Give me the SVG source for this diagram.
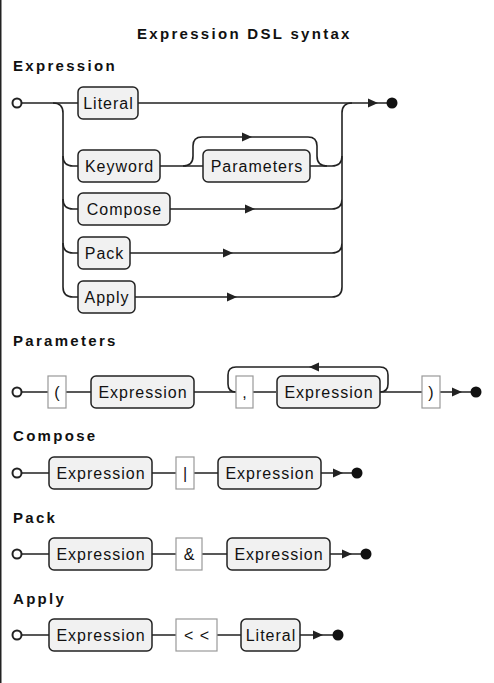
<svg xmlns="http://www.w3.org/2000/svg" xmlns:xlink="http://www.w3.org/1999/xlink" width="494" height="683" viewBox="0 0 494 683">
<style>
.h{font-family:"Liberation Sans",Arial,sans-serif;font-weight:bold;font-size:15px;letter-spacing:2.3px;fill:#111}
.t{font-family:"Liberation Sans",Arial,sans-serif;font-size:16px;letter-spacing:1px;fill:#111;text-anchor:middle}
.nt{fill:#f1f1f1;stroke:#222;stroke-width:1.5}
.tm{fill:#fff;stroke:#999;stroke-width:1.2}
.ln{fill:none;stroke:#222;stroke-width:1.6}
.ar{fill:#222}
.st{fill:#fff;stroke:#222;stroke-width:2}
.en{fill:#111}
</style>
<defs>
<path id="arr" d="M-5,-4.5 L5,0 L-5,4.5 Z"/>
</defs>
<rect width="494" height="683" fill="#fff"/>
<line x1="0.75" y1="0" x2="0.75" y2="683" stroke="#222" stroke-width="1.5"/>
<text class="h" x="137" y="39">Expression DSL syntax</text>
<text class="h" x="13" y="71">Expression</text>
<text class="h" x="13" y="346">Parameters</text>
<text class="h" x="13" y="441">Compose</text>
<text class="h" x="13" y="523">Pack</text>
<text class="h" x="13" y="604">Apply</text>

<g id="connectors">
<!-- Expression -->
<path class="ln" d="M21.5,103 H78 M138,103 H387"/>
<path class="ln" d="M53,103 Q63,103 63,113 V287 Q63,297 73,297 H78"/>
<path class="ln" d="M63,156 Q63,166 73,166 H78 M63,199 Q63,209 73,209 H78 M63,243 Q63,253 73,253 H78"/>
<path class="ln" d="M160,166 H203 M310,166 H332 Q342,166 342,156"/>
<path class="ln" d="M183,166 Q193,166 193,156 V146 Q193,137 202,137 H308 Q317,137 317,146 V156 Q317,166 327,166"/>
<path class="ln" d="M170,209 H332 Q342,209 342,199 M130,253 H332 Q342,253 342,243 M135,297 H332 Q342,297 342,287 V113 Q342,103 352,103"/>
<use xlink:href="#arr" class="ar" x="247" y="137"/>
<use xlink:href="#arr" class="ar" x="250" y="209"/>
<use xlink:href="#arr" class="ar" x="228" y="253"/>
<use xlink:href="#arr" class="ar" x="232" y="297"/>
<use xlink:href="#arr" class="ar" x="373" y="103"/>
<!-- Parameters -->
<path class="ln" d="M21.5,392 H48 M66,392 H91 M194,392 H236 M253,392 H276 M380,392 H422 M440,392 H471"/>
<path class="ln" d="M380,392 Q388,392 388,384 V375 Q388,367 380,367 H236 Q228,367 228,375 V384 Q228,392 236,392"/>
<use xlink:href="#arr" class="ar" x="0" y="0" transform="translate(314,367) rotate(180)"/>
<use xlink:href="#arr" class="ar" x="457" y="392"/>
<!-- Compose -->
<path class="ln" d="M21.5,473 H49 M152,473 H176 M194,473 H218 M321,473 H352"/>
<use xlink:href="#arr" class="ar" x="338" y="473"/>
<!-- Pack -->
<path class="ln" d="M21.5,554 H49 M152,554 H176 M202,554 H227 M330,554 H361"/>
<use xlink:href="#arr" class="ar" x="347" y="554"/>
<!-- Apply -->
<path class="ln" d="M21.5,635 H49 M152,635 H176 M217,635 H241 M300,635 H333"/>
<use xlink:href="#arr" class="ar" x="318" y="635"/>
</g>

<g id="expr-start"><circle class="st" cx="17" cy="103" r="4.5"/></g>
<g id="expr-end"><circle class="en" cx="392" cy="103" r="5.5"/></g>
<g id="expr-literal"><rect class="nt" x="78" y="87" width="60" height="32" rx="5"/><text class="t" x="108.5" y="109">Literal</text></g>
<g id="expr-keyword"><rect class="nt" x="78" y="150" width="82" height="32" rx="5"/><text class="t" x="119.5" y="172">Keyword</text></g>
<g id="expr-parameters"><rect class="nt" x="203" y="150" width="107" height="32" rx="5"/><text class="t" x="257" y="172">Parameters</text></g>
<g id="expr-compose"><rect class="nt" x="78" y="193" width="92" height="32" rx="5"/><text class="t" x="124.5" y="215">Compose</text></g>
<g id="expr-pack"><rect class="nt" x="78" y="237" width="52" height="32" rx="5"/><text class="t" x="104.5" y="259">Pack</text></g>
<g id="expr-apply"><rect class="nt" x="78" y="281" width="57" height="32" rx="5"/><text class="t" x="107" y="303">Apply</text></g>

<g id="par-start"><circle class="st" cx="17" cy="392" r="4.5"/></g>
<g id="par-lparen"><rect class="tm" x="48" y="376" width="18" height="32"/><text class="t" x="57.5" y="398">(</text></g>
<g id="par-expr1"><rect class="nt" x="91" y="376" width="103" height="32" rx="5"/><text class="t" x="143" y="398">Expression</text></g>
<g id="par-comma"><rect class="tm" x="236" y="376" width="17" height="32"/><text class="t" x="245" y="398">,</text></g>
<g id="par-expr2"><rect class="nt" x="277" y="376" width="103" height="32" rx="5"/><text class="t" x="329" y="398">Expression</text></g>
<g id="par-rparen"><rect class="tm" x="422" y="376" width="18" height="32"/><text class="t" x="431.5" y="398">)</text></g>
<g id="par-end"><circle class="en" cx="476" cy="392" r="5.5"/></g>

<g id="com-start"><circle class="st" cx="17" cy="473" r="4.5"/></g>
<g id="com-expr1"><rect class="nt" x="49" y="457" width="103" height="32" rx="5"/><text class="t" x="101" y="479">Expression</text></g>
<g id="com-pipe"><rect class="tm" x="176" y="457" width="18" height="32"/><text class="t" x="185.5" y="479">|</text></g>
<g id="com-expr2"><rect class="nt" x="218" y="457" width="103" height="32" rx="5"/><text class="t" x="270" y="479">Expression</text></g>
<g id="com-end"><circle class="en" cx="357" cy="473" r="5.5"/></g>

<g id="pack-start"><circle class="st" cx="17" cy="554" r="4.5"/></g>
<g id="pack-expr1"><rect class="nt" x="49" y="538" width="103" height="32" rx="5"/><text class="t" x="101" y="560">Expression</text></g>
<g id="pack-amp"><rect class="tm" x="176" y="538" width="26" height="32"/><text class="t" x="189.5" y="560">&amp;</text></g>
<g id="pack-expr2"><rect class="nt" x="227" y="538" width="103" height="32" rx="5"/><text class="t" x="279" y="560">Expression</text></g>
<g id="pack-end"><circle class="en" cx="366" cy="554" r="5.5"/></g>

<g id="app-start"><circle class="st" cx="17" cy="635" r="4.5"/></g>
<g id="app-expr"><rect class="nt" x="49" y="619" width="103" height="32" rx="5"/><text class="t" x="101" y="641">Expression</text></g>
<g id="app-ll"><rect class="tm" x="176" y="619" width="41" height="32"/><text class="t" x="197" y="641">&lt; &lt;</text></g>
<g id="app-literal"><rect class="nt" x="241" y="619" width="59" height="32" rx="5"/><text class="t" x="271" y="641">Literal</text></g>
<g id="app-end"><circle class="en" cx="338" cy="635" r="5.5"/></g>
</svg>
